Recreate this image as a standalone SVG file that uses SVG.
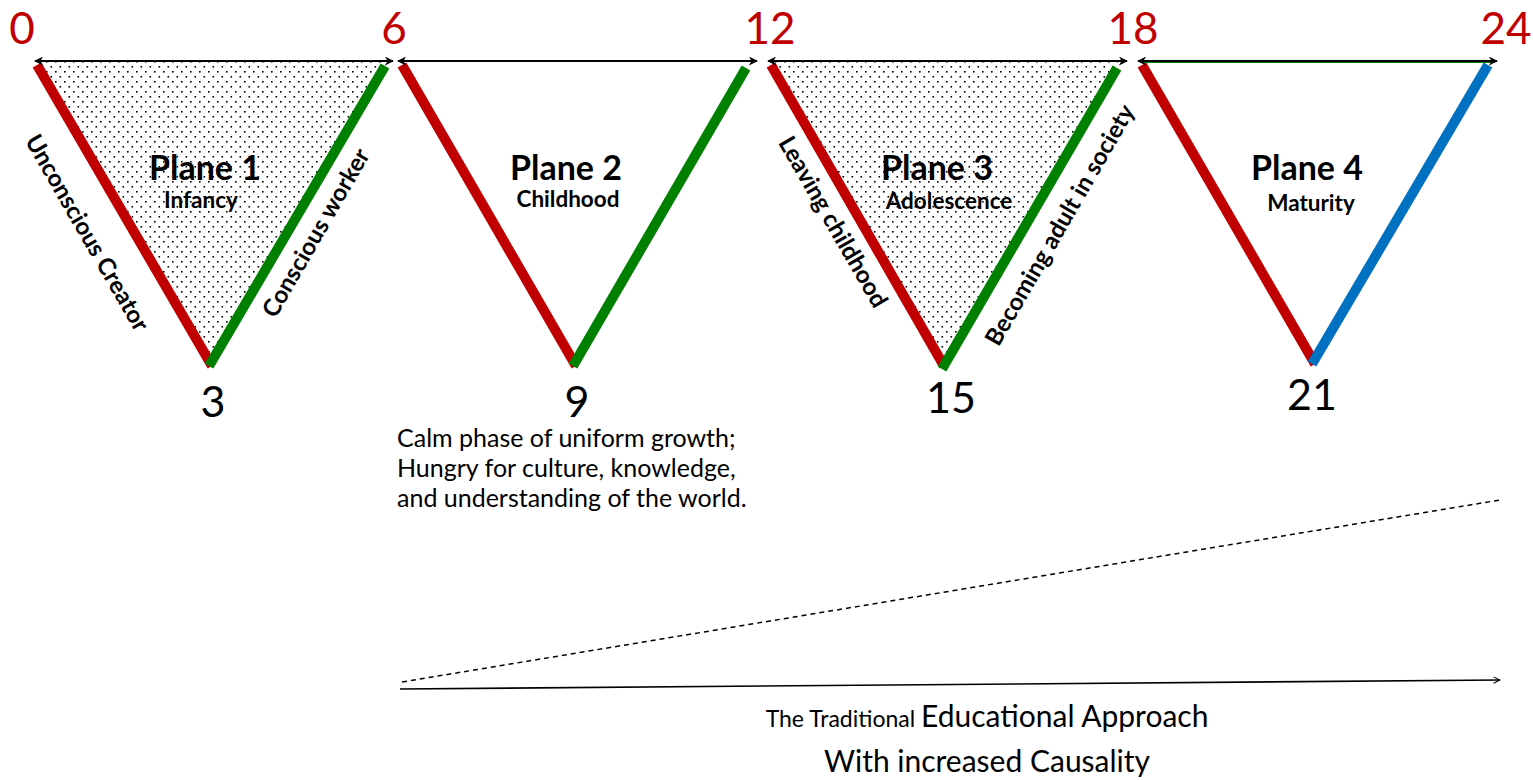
<svg xmlns="http://www.w3.org/2000/svg" width="1533" height="780" viewBox="0 0 1533 780">
<defs>
<pattern id="dots" width="9" height="10" patternUnits="userSpaceOnUse">
<rect width="9" height="10" fill="#fff"/>
<rect x="1" y="1" width="1.6" height="1.6" fill="#000"/>
<rect x="5.5" y="6" width="1.6" height="1.6" fill="#000"/>
</pattern>
<marker id="ah" viewBox="0 0 10 10" refX="9" refY="5" markerWidth="4.5" markerHeight="4.5" orient="auto-start-reverse" markerUnits="strokeWidth">
<path d="M0,0 L10,5 L0,10 L3,5 z" fill="#000"/>
</marker>
<marker id="open" viewBox="0 0 10 10" refX="9" refY="5" markerWidth="8" markerHeight="8" orient="auto" markerUnits="userSpaceOnUse">
<path d="M1,1 L9,5 L1,9" fill="none" stroke="#000" stroke-width="1.3"/>
</marker>
</defs>
<style>
text{font-family:Lato,"Open Sans","Liberation Sans",sans-serif;fill:#000}
.age{font-size:44px;fill:#C00000;text-anchor:middle}
.vx{font-size:43px;text-anchor:middle}
.pl{font-size:34px;font-weight:bold;text-anchor:middle}
.sub{font-size:22.5px;font-weight:bold;text-anchor:middle}
.side{font-size:24px;font-weight:bold;text-anchor:middle}
.para{font-size:25px}
.red{stroke:#C00000;stroke-width:10;fill:none}
.green{stroke:#008000;stroke-width:10;fill:none}
.blue{stroke:#0070C0;stroke-width:10;fill:none}
.top{stroke:#000;stroke-width:2;fill:none;marker-start:url(#ah);marker-end:url(#ah)}
</style>
<rect width="1533" height="780" fill="#fff"/>
<g id="plane1">
<polygon points="38,62 386,62 210,364" fill="url(#dots)"/>
<line class="red" x1="37" y1="65" x2="212" y2="366"/>
<line class="green" x1="385" y1="66" x2="209" y2="366"/>
<text class="pl" x="205" y="180">Plane 1</text>
<text class="sub" x="201" y="208">Infancy</text>
<text class="side" transform="translate(87,233) rotate(60)" y="8">Unconscious Creator</text>
<text class="side" transform="translate(316,233) rotate(-60)" y="8">Conscious worker</text>
<text class="age" x="22" y="44">0</text>
<text class="vx" x="213" y="417">3</text>
</g>
<g id="plane2">
<line class="red" x1="402" y1="65" x2="576" y2="366"/>
<line class="green" x1="746" y1="68" x2="573" y2="366"/>
<text class="pl" x="566" y="180">Plane 2</text>
<text class="sub" x="568" y="207">Childhood</text>
<text class="age" x="394" y="44">6</text>
<text class="vx" x="577" y="417">9</text>
<text class="para" x="397" y="447">Calm phase of uniform growth;</text>
<text class="para" x="397" y="477">Hungry for culture, knowledge,</text>
<text class="para" x="397" y="507">and understanding of the world.</text>
</g>
<g id="plane3">
<polygon points="771,62 1118,62 943,364" fill="url(#dots)"/>
<line class="red" x1="771" y1="65" x2="944" y2="366"/>
<line class="green" x1="1117" y1="68" x2="942" y2="369"/>
<text class="pl" x="937" y="180">Plane 3</text>
<text class="sub" x="949" y="209">Adolescence</text>
<text class="side" transform="translate(833,222) rotate(60)" y="8">Leaving childhood</text>
<text class="side" transform="translate(1060,225) rotate(-60)" y="8">Becoming adult in society</text>
<text class="age" x="770" y="44">12</text>
<text class="vx" x="951" y="413">15</text>
</g>
<g id="plane4">
<line class="red" x1="1142" y1="65" x2="1315" y2="364"/>
<line class="blue" x1="1488" y1="65" x2="1312" y2="364"/>
<text class="pl" x="1307" y="180">Plane 4</text>
<text class="sub" x="1311" y="211">Maturity</text>
<text class="age" x="1133" y="44">18</text>
<text class="age" x="1506" y="44">24</text>
<text class="vx" x="1312" y="410">21</text>
</g>
<g id="connectors">
<line class="top" x1="35" y1="61" x2="393" y2="61"/>
<line class="top" x1="398" y1="61" x2="757" y2="61"/>
<line class="top" x1="768" y1="61" x2="1127" y2="61"/>
<line x1="1140" y1="62.5" x2="1495" y2="62.5" stroke="#008000" stroke-width="1"/>
<line class="top" x1="1138" y1="61" x2="1497" y2="61"/>
<line x1="402" y1="682" x2="1500" y2="500" stroke="#000" stroke-width="1.5" stroke-dasharray="5,4"/>
<line x1="400" y1="689" x2="1500" y2="680" stroke="#000" stroke-width="1.6" marker-end="url(#open)"/>
</g>
<g id="caption">
<text x="987" y="727" text-anchor="middle"><tspan font-size="23px">The Traditional </tspan><tspan font-size="30px">Educational Approach</tspan></text>
<text x="987" y="772" text-anchor="middle" font-size="30px">With increased Causality</text>
</g>
</svg>
